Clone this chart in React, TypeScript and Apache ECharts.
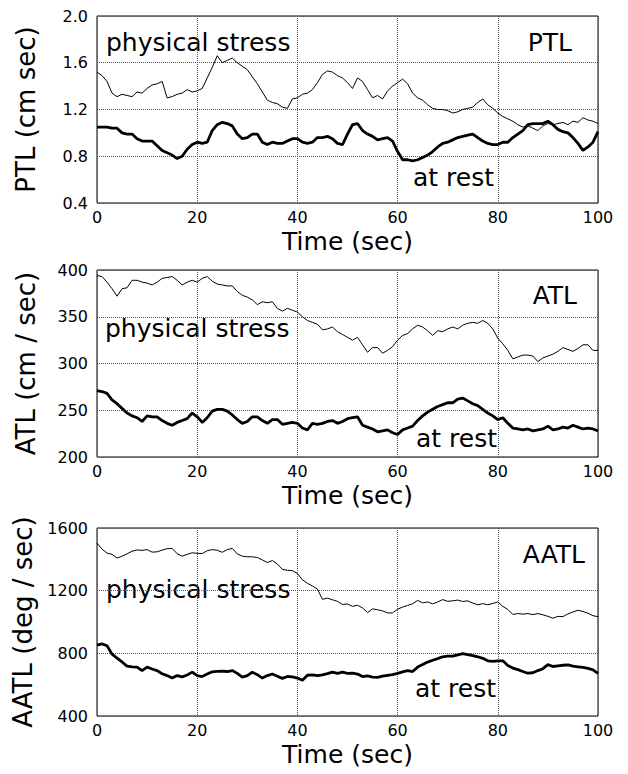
import React, { useEffect, useRef } from "react";
import * as echarts from "echarts";

// Time axis ticks
const xTicks = [0, 20, 40, 60, 80, 100];
const sampleStepSec = 1;

// PTL (cm sec)
const ptlStress = [
  1.52, 1.49, 1.44, 1.34, 1.31, 1.33, 1.32, 1.31, 1.35, 1.34,
  1.38, 1.41, 1.42, 1.44, 1.30, 1.31, 1.33, 1.34, 1.37, 1.35,
  1.36, 1.38, 1.47, 1.56, 1.66, 1.60, 1.62, 1.64, 1.60, 1.57,
  1.54, 1.48, 1.42, 1.35, 1.28, 1.26, 1.25, 1.22, 1.21, 1.29,
  1.30, 1.33, 1.34, 1.37, 1.43, 1.50, 1.53, 1.52, 1.49, 1.47,
  1.43, 1.38, 1.47, 1.44, 1.37, 1.30, 1.32, 1.29, 1.36, 1.40,
  1.43, 1.46, 1.42, 1.34, 1.30, 1.28, 1.24, 1.21, 1.20, 1.20,
  1.19, 1.17, 1.18, 1.20, 1.21, 1.22, 1.26, 1.29, 1.24, 1.21,
  1.17, 1.14, 1.12, 1.10, 1.07, 1.05, 1.06, 1.04, 1.02, 1.06,
  1.08, 1.07, 1.08, 1.09, 1.07, 1.10, 1.09, 1.13, 1.11, 1.10,
  1.08,
];
const ptlRest = [
  1.05, 1.05, 1.05, 1.04, 1.04, 1.00, 0.99, 0.99, 0.95, 0.93,
  0.93, 0.93, 0.89, 0.85, 0.83, 0.81, 0.78, 0.80, 0.86, 0.90,
  0.92, 0.91, 0.92, 1.02, 1.07, 1.09, 1.08, 1.06, 0.99, 0.95,
  0.96, 0.99, 0.99, 0.92, 0.90, 0.92, 0.91, 0.91, 0.93, 0.95,
  0.95, 0.92, 0.91, 0.92, 0.96, 0.96, 0.97, 0.95, 0.91, 0.90,
  0.99, 1.07, 1.08, 1.02, 0.99, 0.97, 0.94, 0.95, 0.96, 0.93,
  0.84, 0.77, 0.77, 0.76, 0.77, 0.79, 0.81, 0.84, 0.88, 0.91,
  0.92, 0.94, 0.96, 0.97, 0.98, 0.99, 0.96, 0.93, 0.91, 0.90,
  0.90, 0.92, 0.92, 0.96, 0.99, 1.02, 1.07, 1.08, 1.08, 1.08,
  1.10, 1.07, 1.03, 1.01, 1.00, 0.96, 0.91, 0.85, 0.88, 0.92,
  1.01,
];

// ATL (cm / sec)
const atlStress = [
  394, 393, 387, 380, 372, 380, 381, 389, 389, 387,
  386, 384, 387, 391, 392, 393, 389, 384, 387, 389,
  387, 391, 393, 388, 385, 384, 383, 383, 377, 373,
  371, 368, 363, 366, 365, 366, 359, 356, 359, 357,
  355, 350, 346, 344, 342, 336, 337, 339, 334, 331,
  328, 325, 328, 320, 312, 317, 317, 311, 314, 318,
  325, 330, 332, 337, 341, 339, 335, 330, 335, 334,
  337, 339, 337, 341, 343, 344, 343, 346, 343, 337,
  327, 321, 314, 305, 307, 309, 309, 308, 302, 306,
  308, 310, 313, 317, 315, 313, 316, 320, 320, 314,
  314,
];
const atlRest = [
  271, 270, 268, 261, 257, 252, 247, 244, 242, 238,
  244, 243, 243, 239, 236, 234, 237, 239, 241, 247,
  243, 237, 242, 249, 251, 251, 249, 245, 240, 236,
  238, 243, 243, 239, 236, 240, 240, 235, 236, 237,
  236, 231, 229, 236, 235, 236, 238, 239, 236, 238,
  241, 242, 243, 234, 232, 230, 227, 228, 229, 226,
  224, 229, 231, 233, 239, 244, 248, 251, 254, 256,
  258, 258, 262, 263, 260, 257, 255, 251, 247, 244,
  240, 242, 236, 231, 230, 229, 230, 228, 229, 230,
  233, 229, 230, 232, 231, 234, 232, 230, 231, 230,
  228,
];

// AATL (deg / sec)
const aatlStress = [
  1504, 1465, 1440, 1432, 1408, 1420, 1435, 1452, 1460, 1457,
  1462, 1446, 1448, 1459, 1468, 1470, 1436, 1420, 1432, 1442,
  1438, 1437, 1455, 1462, 1458, 1445, 1462, 1470, 1435, 1420,
  1416, 1416, 1412, 1396, 1380, 1392, 1370, 1336, 1330, 1328,
  1310, 1270, 1247, 1230, 1210, 1145, 1152, 1142, 1132, 1112,
  1115, 1100, 1107, 1090, 1060, 1084, 1078, 1071, 1058, 1058,
  1082, 1095, 1106, 1117, 1138, 1122, 1128, 1116, 1128, 1143,
  1132, 1135, 1140, 1131, 1135, 1121, 1110, 1117, 1110, 1118,
  1128, 1100, 1080, 1048, 1054, 1050, 1054, 1047, 1054, 1046,
  1036, 1024, 1036, 1034, 1052, 1064, 1075, 1067, 1056, 1040,
  1034,
];
const aatlRest = [
  853, 860, 848, 795, 770, 745, 718, 714, 712, 690,
  712, 700, 690, 670, 658, 642, 658, 650, 662, 680,
  658, 652, 668, 682, 685, 686, 684, 690, 672, 648,
  658, 680, 664, 642, 658, 668, 654, 640, 652, 650,
  642, 628, 660, 662, 658, 662, 670, 680, 672, 680,
  672, 674, 668, 652, 656, 648, 646, 654, 660, 664,
  672, 682, 690, 684, 712, 728, 744, 756, 766, 778,
  782, 782, 790, 798, 792, 786, 778, 768, 752, 748,
  752, 752, 722, 706, 696, 684, 673, 676, 690, 702,
  728, 716, 720, 724, 726, 718, 714, 710, 704, 694,
  672,
];

const panelNames = ["PTL", "ATL", "AATL"];
const yNames = ["PTL (cm sec)", "ATL (cm / sec)", "AATL (deg / sec)"];
const yRanges = [
  { min: 0.4, max: 2.0, interval: 0.4 },
  { min: 200, max: 400, interval: 50 },
  { min: 400, max: 1600, interval: 400 },
];
const stressLabel = "physical stress";
const restLabel = "at rest";
const xName = "Time (sec)";

const FONT = "DejaVu Sans";

function toPairs(arr: number[]) {
  return arr.map((v, i) => [i * sampleStepSec, v]);
}

export default function App() {
  const ref = useRef<HTMLDivElement>(null);
  useEffect(() => {
    if (!ref.current) return;
    const chart = echarts.init(ref.current, undefined, { renderer: "svg" });
    const grids = [
      { left: 97, right: 30, top: 16, height: 187 },
      { left: 97, right: 30, top: 270, height: 187 },
      { left: 97, right: 30, top: 528, height: 188 },
    ];
    const series = [
      [ptlStress, ptlRest],
      [atlStress, atlRest],
      [aatlStress, aatlRest],
    ];
    const gridLine = { show: true, lineStyle: { color: "#555", width: 1, type: [1, 1] as any } };
    const option: any = {
      animation: false,
      backgroundColor: "#fff",
      grid: grids.map((g) => ({ ...g, show: true, borderColor: "#000", borderWidth: 1, backgroundColor: "transparent" })),
      xAxis: grids.map((_, i) => ({
        type: "value",
        gridIndex: i,
        min: xTicks[0],
        max: xTicks[xTicks.length - 1],
        interval: xTicks[1] - xTicks[0],
        axisLine: { show: false },
        axisTick: { show: false },
        splitLine: gridLine,
        axisLabel: { color: "#000", fontFamily: FONT, fontSize: 16, margin: 6 },
        name: xName,
        nameLocation: "middle",
        nameGap: 26,
        nameTextStyle: { color: "#000", fontFamily: FONT, fontSize: 25, verticalAlign: "top" },
      })),
      yAxis: yRanges.map((r, i) => ({
        type: "value",
        gridIndex: i,
        min: r.min,
        max: r.max,
        interval: r.interval,
        axisLine: { show: false },
        axisTick: { show: false },
        splitLine: gridLine,
        axisLabel: {
          color: "#000",
          fontFamily: FONT,
          fontSize: 16,
          margin: 9,
          formatter: (v: number) => (i === 0 ? v.toFixed(1) : String(v)),
        },
        name: yNames[i],
        nameLocation: "middle",
        nameGap: 58,
        nameTextStyle: { color: "#000", fontFamily: FONT, fontSize: 26 },
      })),
      series: series.flatMap((pair, i) => [
        {
          type: "line",
          xAxisIndex: i,
          yAxisIndex: i,
          data: toPairs(pair[0]),
          showSymbol: false,
          lineStyle: { color: "#000", width: 1 },
          z: 3,
        },
        {
          type: "line",
          xAxisIndex: i,
          yAxisIndex: i,
          data: toPairs(pair[1]),
          showSymbol: false,
          lineStyle: { color: "#000", width: 2.8 },
          z: 3,
        },
      ]),
      graphic: [
        { type: "text", x: 106, y: 42, style: { text: stressLabel, font: `25px '${FONT}'`, fill: "#000", textVerticalAlign: "middle" } },
        { type: "text", x: 572, y: 42, style: { text: panelNames[0], font: `25px '${FONT}'`, fill: "#000", textAlign: "right", textVerticalAlign: "middle" } },
        { type: "text", x: 413, y: 177, style: { text: restLabel, font: `25px '${FONT}'`, fill: "#000", textVerticalAlign: "middle" } },
        { type: "text", x: 105, y: 328, style: { text: stressLabel, font: `25px '${FONT}'`, fill: "#000", textVerticalAlign: "middle" } },
        { type: "text", x: 577, y: 295, style: { text: panelNames[1], font: `25px '${FONT}'`, fill: "#000", textAlign: "right", textVerticalAlign: "middle" } },
        { type: "text", x: 416, y: 438, style: { text: restLabel, font: `25px '${FONT}'`, fill: "#000", textVerticalAlign: "middle" } },
        { type: "text", x: 106, y: 589, style: { text: stressLabel, font: `25px '${FONT}'`, fill: "#000", textVerticalAlign: "middle" } },
        { type: "text", x: 585, y: 554, style: { text: panelNames[2], font: `25px '${FONT}'`, fill: "#000", textAlign: "right", textVerticalAlign: "middle" } },
        { type: "text", x: 415, y: 688, style: { text: restLabel, font: `25px '${FONT}'`, fill: "#000", textVerticalAlign: "middle" } },
      ],
    };
    chart.setOption(option);
    return () => chart.dispose();
  }, []);
  return (
    <div
      ref={ref}
      style={{ position: "absolute", left: 0, top: 0, width: 628, height: 774, background: "#fff" }}
    />
  );
}
